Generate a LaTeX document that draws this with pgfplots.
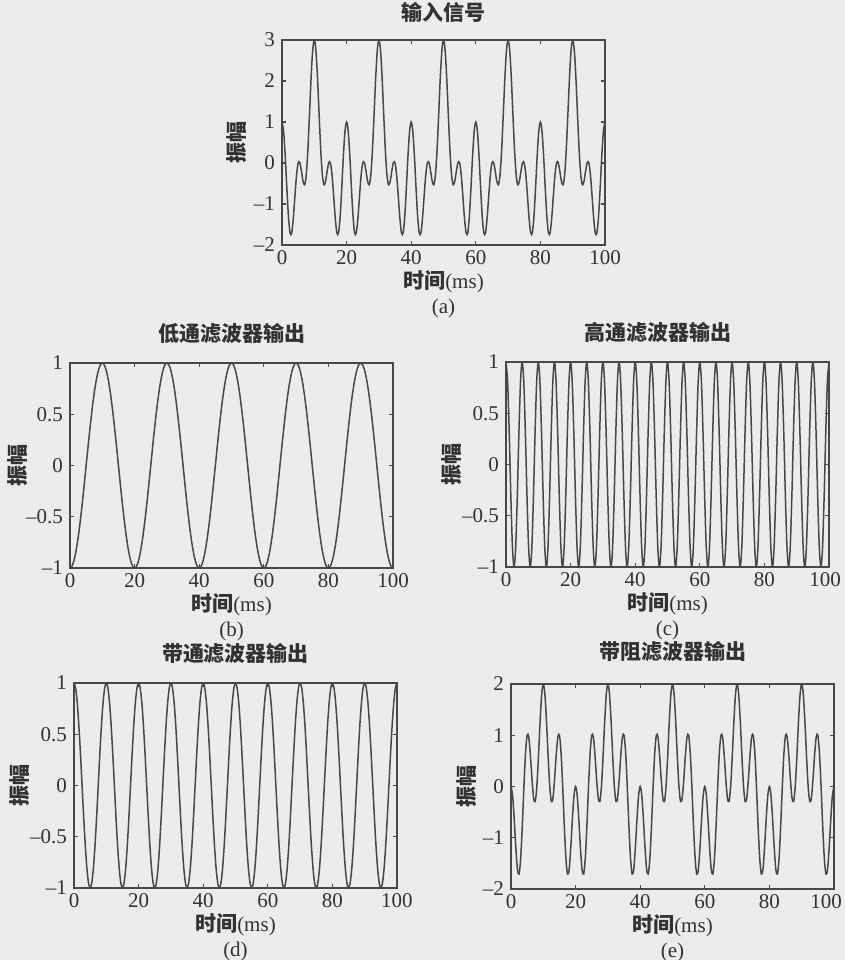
\documentclass[border=0pt]{standalone}
\usepackage{pgfplots}
\usepackage{pgfplotstable}
\pgfplotsset{compat=1.18}
\usepackage{fontspec}
\setmainfont{Liberation Serif}
\newfontfamily\cjk{Noto Sans CJK SC}
\definecolor{bgc}{RGB}{236,236,236}
\definecolor{linec}{RGB}{72,72,72}
\definecolor{textc}{RGB}{50,50,50}

\pgfplotstableread{
t L B H E A
0 -1 1 1 0 1
0.5 -0.9877 0.9511 0.8090 -0.1787 0.7724
1 -0.9511 0.8090 0.3090 -0.6421 0.1669
1.5 -0.8910 0.5878 -0.3090 -1.2000 -0.6122
2 -0.8090 0.3090 -0.8090 -1.6180 -1.3090
2.5 -0.7071 0 -1 -1.7071 -1.7071
3 -0.5878 -0.3090 -0.8090 -1.3968 -1.7058
3.5 -0.4540 -0.5878 -0.3090 -0.7630 -1.3508
4 -0.3090 -0.8090 0.3090 0 -0.8090
4.5 -0.1564 -0.9511 0.8090 0.6526 -0.2985
5 0 -1 1 1 0
5.5 0.1564 -0.9511 0.8090 0.9654 0.0143
6 0.3090 -0.8090 0.3090 0.6180 -0.1910
6.5 0.4540 -0.5878 -0.3090 0.1450 -0.4428
7 0.5878 -0.3090 -0.8090 -0.2212 -0.5302
7.5 0.7071 0 -1 -0.2929 -0.2929
8 0.8090 0.3090 -0.8090 0 0.3090
8.5 0.8910 0.5878 -0.3090 0.5820 1.1698
9 0.9511 0.8090 0.3090 1.2601 2.0691
9.5 0.9877 0.9511 0.8090 1.7967 2.7478
10 1 1 1 2 3
10.5 0.9877 0.9511 0.8090 1.7967 2.7478
11 0.9511 0.8090 0.3090 1.2601 2.0691
11.5 0.8910 0.5878 -0.3090 0.5820 1.1698
12 0.8090 0.3090 -0.8090 0 0.3090
12.5 0.7071 0 -1 -0.2929 -0.2929
13 0.5878 -0.3090 -0.8090 -0.2212 -0.5302
13.5 0.4540 -0.5878 -0.3090 0.1450 -0.4428
14 0.3090 -0.8090 0.3090 0.6180 -0.1910
14.5 0.1564 -0.9511 0.8090 0.9654 0.0143
15 0 -1 1 1 0
15.5 -0.1564 -0.9511 0.8090 0.6526 -0.2985
16 -0.3090 -0.8090 0.3090 0 -0.8090
16.5 -0.4540 -0.5878 -0.3090 -0.7630 -1.3508
17 -0.5878 -0.3090 -0.8090 -1.3968 -1.7058
17.5 -0.7071 0 -1 -1.7071 -1.7071
18 -0.8090 0.3090 -0.8090 -1.6180 -1.3090
18.5 -0.8910 0.5878 -0.3090 -1.2000 -0.6122
19 -0.9511 0.8090 0.3090 -0.6421 0.1669
19.5 -0.9877 0.9511 0.8090 -0.1787 0.7724
20 -1 1 1 0 1
20.5 -0.9877 0.9511 0.8090 -0.1787 0.7724
21 -0.9511 0.8090 0.3090 -0.6421 0.1669
21.5 -0.8910 0.5878 -0.3090 -1.2000 -0.6122
22 -0.8090 0.3090 -0.8090 -1.6180 -1.3090
22.5 -0.7071 0 -1 -1.7071 -1.7071
23 -0.5878 -0.3090 -0.8090 -1.3968 -1.7058
23.5 -0.4540 -0.5878 -0.3090 -0.7630 -1.3508
24 -0.3090 -0.8090 0.3090 0 -0.8090
24.5 -0.1564 -0.9511 0.8090 0.6526 -0.2985
25 0 -1 1 1 0
25.5 0.1564 -0.9511 0.8090 0.9654 0.0143
26 0.3090 -0.8090 0.3090 0.6180 -0.1910
26.5 0.4540 -0.5878 -0.3090 0.1450 -0.4428
27 0.5878 -0.3090 -0.8090 -0.2212 -0.5302
27.5 0.7071 0 -1 -0.2929 -0.2929
28 0.8090 0.3090 -0.8090 0 0.3090
28.5 0.8910 0.5878 -0.3090 0.5820 1.1698
29 0.9511 0.8090 0.3090 1.2601 2.0691
29.5 0.9877 0.9511 0.8090 1.7967 2.7478
30 1 1 1 2 3
30.5 0.9877 0.9511 0.8090 1.7967 2.7478
31 0.9511 0.8090 0.3090 1.2601 2.0691
31.5 0.8910 0.5878 -0.3090 0.5820 1.1698
32 0.8090 0.3090 -0.8090 0 0.3090
32.5 0.7071 0 -1 -0.2929 -0.2929
33 0.5878 -0.3090 -0.8090 -0.2212 -0.5302
33.5 0.4540 -0.5878 -0.3090 0.1450 -0.4428
34 0.3090 -0.8090 0.3090 0.6180 -0.1910
34.5 0.1564 -0.9511 0.8090 0.9654 0.0143
35 0 -1 1 1 0
35.5 -0.1564 -0.9511 0.8090 0.6526 -0.2985
36 -0.3090 -0.8090 0.3090 0 -0.8090
36.5 -0.4540 -0.5878 -0.3090 -0.7630 -1.3508
37 -0.5878 -0.3090 -0.8090 -1.3968 -1.7058
37.5 -0.7071 0 -1 -1.7071 -1.7071
38 -0.8090 0.3090 -0.8090 -1.6180 -1.3090
38.5 -0.8910 0.5878 -0.3090 -1.2000 -0.6122
39 -0.9511 0.8090 0.3090 -0.6421 0.1669
39.5 -0.9877 0.9511 0.8090 -0.1787 0.7724
40 -1 1 1 0 1
40.5 -0.9877 0.9511 0.8090 -0.1787 0.7724
41 -0.9511 0.8090 0.3090 -0.6421 0.1669
41.5 -0.8910 0.5878 -0.3090 -1.2000 -0.6122
42 -0.8090 0.3090 -0.8090 -1.6180 -1.3090
42.5 -0.7071 0 -1 -1.7071 -1.7071
43 -0.5878 -0.3090 -0.8090 -1.3968 -1.7058
43.5 -0.4540 -0.5878 -0.3090 -0.7630 -1.3508
44 -0.3090 -0.8090 0.3090 0 -0.8090
44.5 -0.1564 -0.9511 0.8090 0.6526 -0.2985
45 0 -1 1 1 0
45.5 0.1564 -0.9511 0.8090 0.9654 0.0143
46 0.3090 -0.8090 0.3090 0.6180 -0.1910
46.5 0.4540 -0.5878 -0.3090 0.1450 -0.4428
47 0.5878 -0.3090 -0.8090 -0.2212 -0.5302
47.5 0.7071 0 -1 -0.2929 -0.2929
48 0.8090 0.3090 -0.8090 0 0.3090
48.5 0.8910 0.5878 -0.3090 0.5820 1.1698
49 0.9511 0.8090 0.3090 1.2601 2.0691
49.5 0.9877 0.9511 0.8090 1.7967 2.7478
50 1 1 1 2 3
50.5 0.9877 0.9511 0.8090 1.7967 2.7478
51 0.9511 0.8090 0.3090 1.2601 2.0691
51.5 0.8910 0.5878 -0.3090 0.5820 1.1698
52 0.8090 0.3090 -0.8090 0 0.3090
52.5 0.7071 0 -1 -0.2929 -0.2929
53 0.5878 -0.3090 -0.8090 -0.2212 -0.5302
53.5 0.4540 -0.5878 -0.3090 0.1450 -0.4428
54 0.3090 -0.8090 0.3090 0.6180 -0.1910
54.5 0.1564 -0.9511 0.8090 0.9654 0.0143
55 0 -1 1 1 0
55.5 -0.1564 -0.9511 0.8090 0.6526 -0.2985
56 -0.3090 -0.8090 0.3090 0 -0.8090
56.5 -0.4540 -0.5878 -0.3090 -0.7630 -1.3508
57 -0.5878 -0.3090 -0.8090 -1.3968 -1.7058
57.5 -0.7071 0 -1 -1.7071 -1.7071
58 -0.8090 0.3090 -0.8090 -1.6180 -1.3090
58.5 -0.8910 0.5878 -0.3090 -1.2000 -0.6122
59 -0.9511 0.8090 0.3090 -0.6421 0.1669
59.5 -0.9877 0.9511 0.8090 -0.1787 0.7724
60 -1 1 1 0 1
60.5 -0.9877 0.9511 0.8090 -0.1787 0.7724
61 -0.9511 0.8090 0.3090 -0.6421 0.1669
61.5 -0.8910 0.5878 -0.3090 -1.2000 -0.6122
62 -0.8090 0.3090 -0.8090 -1.6180 -1.3090
62.5 -0.7071 0 -1 -1.7071 -1.7071
63 -0.5878 -0.3090 -0.8090 -1.3968 -1.7058
63.5 -0.4540 -0.5878 -0.3090 -0.7630 -1.3508
64 -0.3090 -0.8090 0.3090 0 -0.8090
64.5 -0.1564 -0.9511 0.8090 0.6526 -0.2985
65 0 -1 1 1 0
65.5 0.1564 -0.9511 0.8090 0.9654 0.0143
66 0.3090 -0.8090 0.3090 0.6180 -0.1910
66.5 0.4540 -0.5878 -0.3090 0.1450 -0.4428
67 0.5878 -0.3090 -0.8090 -0.2212 -0.5302
67.5 0.7071 0 -1 -0.2929 -0.2929
68 0.8090 0.3090 -0.8090 0 0.3090
68.5 0.8910 0.5878 -0.3090 0.5820 1.1698
69 0.9511 0.8090 0.3090 1.2601 2.0691
69.5 0.9877 0.9511 0.8090 1.7967 2.7478
70 1 1 1 2 3
70.5 0.9877 0.9511 0.8090 1.7967 2.7478
71 0.9511 0.8090 0.3090 1.2601 2.0691
71.5 0.8910 0.5878 -0.3090 0.5820 1.1698
72 0.8090 0.3090 -0.8090 0 0.3090
72.5 0.7071 0 -1 -0.2929 -0.2929
73 0.5878 -0.3090 -0.8090 -0.2212 -0.5302
73.5 0.4540 -0.5878 -0.3090 0.1450 -0.4428
74 0.3090 -0.8090 0.3090 0.6180 -0.1910
74.5 0.1564 -0.9511 0.8090 0.9654 0.0143
75 0 -1 1 1 0
75.5 -0.1564 -0.9511 0.8090 0.6526 -0.2985
76 -0.3090 -0.8090 0.3090 0 -0.8090
76.5 -0.4540 -0.5878 -0.3090 -0.7630 -1.3508
77 -0.5878 -0.3090 -0.8090 -1.3968 -1.7058
77.5 -0.7071 0 -1 -1.7071 -1.7071
78 -0.8090 0.3090 -0.8090 -1.6180 -1.3090
78.5 -0.8910 0.5878 -0.3090 -1.2000 -0.6122
79 -0.9511 0.8090 0.3090 -0.6421 0.1669
79.5 -0.9877 0.9511 0.8090 -0.1787 0.7724
80 -1 1 1 0 1
80.5 -0.9877 0.9511 0.8090 -0.1787 0.7724
81 -0.9511 0.8090 0.3090 -0.6421 0.1669
81.5 -0.8910 0.5878 -0.3090 -1.2000 -0.6122
82 -0.8090 0.3090 -0.8090 -1.6180 -1.3090
82.5 -0.7071 0 -1 -1.7071 -1.7071
83 -0.5878 -0.3090 -0.8090 -1.3968 -1.7058
83.5 -0.4540 -0.5878 -0.3090 -0.7630 -1.3508
84 -0.3090 -0.8090 0.3090 0 -0.8090
84.5 -0.1564 -0.9511 0.8090 0.6526 -0.2985
85 0 -1 1 1 0
85.5 0.1564 -0.9511 0.8090 0.9654 0.0143
86 0.3090 -0.8090 0.3090 0.6180 -0.1910
86.5 0.4540 -0.5878 -0.3090 0.1450 -0.4428
87 0.5878 -0.3090 -0.8090 -0.2212 -0.5302
87.5 0.7071 0 -1 -0.2929 -0.2929
88 0.8090 0.3090 -0.8090 0 0.3090
88.5 0.8910 0.5878 -0.3090 0.5820 1.1698
89 0.9511 0.8090 0.3090 1.2601 2.0691
89.5 0.9877 0.9511 0.8090 1.7967 2.7478
90 1 1 1 2 3
90.5 0.9877 0.9511 0.8090 1.7967 2.7478
91 0.9511 0.8090 0.3090 1.2601 2.0691
91.5 0.8910 0.5878 -0.3090 0.5820 1.1698
92 0.8090 0.3090 -0.8090 0 0.3090
92.5 0.7071 0 -1 -0.2929 -0.2929
93 0.5878 -0.3090 -0.8090 -0.2212 -0.5302
93.5 0.4540 -0.5878 -0.3090 0.1450 -0.4428
94 0.3090 -0.8090 0.3090 0.6180 -0.1910
94.5 0.1564 -0.9511 0.8090 0.9654 0.0143
95 0 -1 1 1 0
95.5 -0.1564 -0.9511 0.8090 0.6526 -0.2985
96 -0.3090 -0.8090 0.3090 0 -0.8090
96.5 -0.4540 -0.5878 -0.3090 -0.7630 -1.3508
97 -0.5878 -0.3090 -0.8090 -1.3968 -1.7058
97.5 -0.7071 0 -1 -1.7071 -1.7071
98 -0.8090 0.3090 -0.8090 -1.6180 -1.3090
98.5 -0.8910 0.5878 -0.3090 -1.2000 -0.6122
99 -0.9511 0.8090 0.3090 -0.6421 0.1669
99.5 -0.9877 0.9511 0.8090 -0.1787 0.7724
100 -1 1 1 0 1
}\data

\pgfplotsset{
  panel/.style={
    scale only axis, width=161.5pt, height=102.5pt,
    xmin=0, xmax=100, xtick={0,20,...,100},
    tick align=inside, major tick length=2.2pt,
    axis line style={draw=linec, line width=0.7pt},
    tick style={draw=linec, line width=0.6pt},
    axis background/.style={fill=bgc},
    ticklabel style={font=\fontsize{10.5}{12}\selectfont, text=textc},
    /pgf/number format/assume math mode=true,
    xticklabel style={yshift=1pt},
    title style={font=\cjk\bfseries\fontsize{10.5}{12}\selectfont, text=textc, at={(0.5,1.085)}, anchor=center},
    xlabel style={font=\fontsize{10.5}{12}\selectfont, text=textc, at={(0.5,-0.18)}, anchor=center},
    ylabel style={font=\cjk\bfseries\fontsize{10.5}{12}\selectfont, text=textc, anchor=center},
    xlabel={{\cjk\bfseries 时间}(ms)},
    ylabel={振幅},
  },
  rightlabel/.style={xtick={0,20,...,80}, extra x ticks={100},
    extra x tick style={xticklabel style={xshift=#1}}},
  sublabel/.style={extra description/.code={\node[font=\fontsize{10.5}{12}\selectfont, text=textc] at (axis description cs:0.5,-0.31) {#1};}},
  sig/.style={draw=linec, line width=0.75pt, no marks, smooth},
  unitticks/.style={ymin=-1, ymax=1, ytick={-1,-0.5,0,0.5,1}, yticklabels={–1,–0.5,0,0.5,1}},
}

\begin{document}
\begin{tikzpicture}
\useasboundingbox (0,0) rectangle (422.5pt,-480pt);
\fill[bgc] (0,0) rectangle (422.5pt,-480pt);

% (a) input
\begin{axis}[panel, at={(141pt,-122.5pt)}, anchor=south west,
  ymin=-2, ymax=3, ytick={-2,-1,0,1,2,3}, yticklabels={–2,–1,0,1,2,3},
  title={输入信号}, title style={at={(0.5,1.075)}},
  ylabel style={at={(axis description cs:-0.139,0.5)}},
  sublabel={(a)}]
\addplot[sig] table[x=t, y=A]{\data};
\end{axis}

% (b) low-pass
\begin{axis}[panel, unitticks, at={(35pt,-284pt)}, anchor=south west,
  title={低通滤波器输出},
  ylabel style={at={(axis description cs:-0.161,0.5)}},
  sublabel={(b)}]
\addplot[sig] table[x=t, y=L]{\data};
\end{axis}

% (c) high-pass
\begin{axis}[panel, unitticks, rightlabel=-2pt, at={(253pt,-283.5pt)}, anchor=south west,
  title={高通滤波器输出}, title style={at={(0.47,1.085)}},
  ylabel style={at={(axis description cs:-0.167,0.5)}},
  sublabel={(c)}]
\addplot[sig] table[x=t, y=H]{\data};
\end{axis}

% (d) band-pass
\begin{axis}[panel, unitticks, at={(37pt,-444pt)}, anchor=south west,
  title={带通滤波器输出},
  ylabel style={at={(axis description cs:-0.167,0.5)}},
  sublabel={(d)}]
\addplot[sig] table[x=t, y=B]{\data};
\end{axis}

% (e) band-stop
\begin{axis}[panel, rightlabel=-4pt, at={(255.5pt,-444.5pt)}, anchor=south west,
  ymin=-2, ymax=2, ytick={-2,-1,0,1,2}, yticklabels={–2,–1,0,1,2},
  title={带阻滤波器输出}, title style={at={(0.5,1.1)}},
  ylabel style={at={(axis description cs:-0.136,0.5)}},
  sublabel={(e)}]
\addplot[sig] table[x=t, y=E]{\data};
\end{axis}
\end{tikzpicture}
\end{document}
